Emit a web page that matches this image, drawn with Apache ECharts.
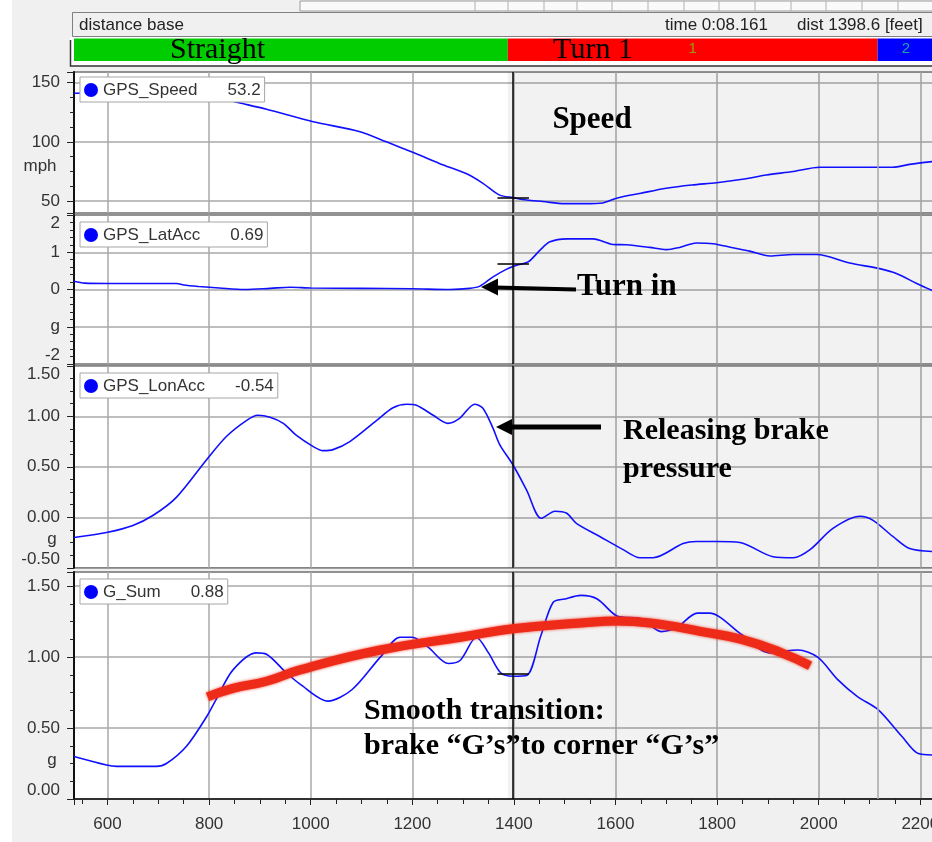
<!DOCTYPE html>
<html><head><meta charset="utf-8">
<script src="https://cdn.jsdelivr.net/npm/echarts@6/dist/echarts.min.js"></script>
<style>
html,body{margin:0;padding:0;background:#fff}
#c{width:932px;height:842px;background:linear-gradient(to right,#fff 0,#fff 12px,#f0f0f0 12px)}
</style>
</head><body><div id="c"></div>
<script>
// ---------- data ----------
const speedDist = [534, 600, 700, 780, 820, 859, 913, 1005, 1097, 1149, 1202, 1261, 1307, 1339, 1372, 1398, 1425, 1457, 1500, 1540, 1575, 1602, 1650, 1700, 1750, 1799, 1850, 1897, 1950, 2002, 2060, 2114, 2146, 2179, 2227];
const speedVals = [141, 141.5, 141.5, 140, 137, 133, 127.5, 117, 108.6, 100, 91, 80.5, 73, 65, 55, 52.9, 50.9, 49.6, 47.8, 47.8, 48.4, 52.4, 56.6, 60.8, 63.6, 65.5, 68.4, 72, 74.9, 78.5, 78.5, 78.5, 78.5, 81, 83.5];

const latDist = [534, 555, 600, 650, 700, 736, 750, 780, 820, 870, 920, 960, 1000, 1100, 1200, 1274, 1313, 1333, 1359, 1385, 1405, 1428, 1451, 1471, 1504, 1556, 1595, 1621, 1667, 1700, 1726, 1759, 1792, 1831, 1864, 1904, 1950, 1996, 2061, 2120, 2153, 2193, 2227];
const latVals = [0.22, 0.17, 0.16, 0.16, 0.16, 0.16, 0.12, 0.08, 0.04, 0.0, 0.03, 0.06, 0.04, 0.03, 0.02, 0.0, 0.03, 0.09, 0.34, 0.54, 0.65, 0.74, 1.05, 1.28, 1.36, 1.36, 1.21, 1.2, 1.13, 1.07, 1.13, 1.25, 1.23, 1.12, 1.03, 0.9, 0.94, 0.94, 0.71, 0.56, 0.43, 0.16, -0.05];

const lonDist = [534, 598, 650, 690, 736, 795, 834, 874, 896, 920, 946, 972, 1005, 1024, 1044, 1077, 1130, 1162, 1189, 1208, 1241, 1270, 1293, 1323, 1339, 1359, 1372, 1398, 1425, 1454, 1481, 1504, 1523, 1569, 1615, 1648, 1674, 1733, 1759, 1800, 1845, 1910, 1950, 1983, 2028, 2081, 2107, 2146, 2179, 2227];
const lonVals = [-0.2, -0.15, -0.08, 0.02, 0.2, 0.57, 0.8, 0.96, 1.01, 0.99, 0.93, 0.81, 0.70, 0.66, 0.67, 0.75, 0.96, 1.085, 1.12, 1.11, 1.01, 0.93, 0.98, 1.12, 1.08, 0.88, 0.72, 0.52, 0.27, -0.01, 0.06, 0.04, -0.06, -0.19, -0.32, -0.40, -0.40, -0.26, -0.24, -0.24, -0.25, -0.39, -0.40, -0.32, -0.11, 0.01, -0.03, -0.19, -0.31, -0.34];

const gDist = [534, 598, 618, 696, 716, 755, 795, 815, 847, 893, 913, 952, 979, 1034, 1081, 1137, 1176, 1200, 1231, 1271, 1295, 1326, 1350, 1374, 1398, 1425, 1453, 1477, 1500, 1532, 1564, 1603, 1650, 1690, 1721, 1761, 1785, 1848, 1903, 1959, 1998, 2038, 2077, 2117, 2164, 2196, 2227];
const gVals = [0.30, 0.24, 0.23, 0.23, 0.25, 0.37, 0.58, 0.71, 0.91, 1.03, 1.02, 0.89, 0.81, 0.69, 0.77, 1.0, 1.14, 1.14, 1.07, 0.955, 0.98, 1.14, 1.03, 0.89, 0.865, 0.87, 1.15, 1.385, 1.41, 1.435, 1.41, 1.29, 1.27, 1.18, 1.21, 1.31, 1.31, 1.16, 1.03, 1.05, 1.0, 0.84, 0.72, 0.63, 0.44, 0.32, 0.31];

const trendDist = [797, 847, 913, 979, 1137, 1295, 1398, 1532, 1603, 1690, 1769, 1848, 1927, 1983];
const trendVals = [0.72, 0.78, 0.83, 0.91, 1.05, 1.14, 1.20, 1.24, 1.255, 1.23, 1.18, 1.125, 1.03, 0.94];

const seriesNames = ['GPS_Speed', 'GPS_LatAcc', 'GPS_LonAcc', 'G_Sum'];
const cursorVals = ['53.2', '0.69', '-0.54', '0.88'];
const cursorDist = 1398.6;

const sectionStart = [534, 1388, 2116];
const sectionEnd = [1388, 2116, 2227];
const sectionLabels = ['', '1', '2'];

const xTickLabels = [600, 800, 1000, 1200, 1400, 1600, 1800, 2000, 2200];

// ---------- styles ----------
const X_MIN = 534, X_MAX = 2227;
const sectionColors = ['#00cc00', '#ff0000', '#0000ff'];
const sectionLabelColors = ['#000', '#9aa000', '#1aa6a6'];
const GRID_COL = '#a9a9a9';
const LABEL_COL = '#333';
const SANS = '"Liberation Sans", Arial, sans-serif';
const SERIF = '"Liberation Serif", "Times New Roman", serif';

const pairs = (d, v) => d.map((x, i) => [x, v[i]]);

const chart = echarts.init(document.getElementById('c'));

const gridDefs = [
  { top: 72, height: 140.9 },
  { top: 215, height: 149 },
  { top: 365.8, height: 202 },
  { top: 572, height: 227 },
  { top: 38.5, height: 22.5 }
];
const grid = gridDefs.map((g, i) => ({
  left: 74, width: 860, top: g.top, height: g.height,
  containLabel: false, outerBoundsMode: 'none',
  show: i < 4, backgroundColor: '#fff', borderColor: '#1a1a1a', borderWidth: 1.5
}));

const xAxis = gridDefs.map((g, i) => ({
  type: 'value', gridIndex: i, min: X_MIN, max: X_MAX,
  splitNumber: 8, minInterval: 200, maxInterval: 200,
  show: i < 4,
  axisLine: { show: i === 3, lineStyle: { color: '#111', width: 1.5 } },
  axisTick: { show: i === 3, length: 6, lineStyle: { color: '#222', width: 1 } },
  minorTick: { show: i === 3, splitNumber: 4, length: 5, lineStyle: { color: '#222', width: 1 } },
  axisLabel: {
    show: i === 3, fontSize: 17, fontFamily: SANS, color: LABEL_COL, margin: 17,
    formatter: v => xTickLabels.indexOf(Math.round(v)) >= 0 && Math.abs(v - Math.round(v)) < 1e-6 ? String(Math.round(v)) : ''
  },
  splitLine: { show: i < 4, lineStyle: { color: GRID_COL, width: 1.5 } }
}));

const yCommon = {
  type: 'value',
  axisLine: { show: true, lineStyle: { color: '#111', width: 2 } },
  axisTick: { show: true, length: 7, lineStyle: { color: '#222', width: 1 } },
  minorTick: { show: true, splitNumber: 4, length: 4, lineStyle: { color: '#222', width: 1 } },
  splitLine: { show: true, lineStyle: { color: GRID_COL, width: 1.5 } }
};
const lab = extra => Object.assign({ fontSize: 17, fontFamily: SANS, color: LABEL_COL, margin: 14 }, extra);
const yAxis = [
  Object.assign({}, yCommon, { gridIndex: 0, min: 40, max: 159, splitNumber: 3, minInterval: 50, maxInterval: 50,
    axisLabel: lab({ formatter: v => (Math.abs(v % 50) < 1e-9 ? String(v) : '') }) }),
  Object.assign({}, yCommon, { gridIndex: 1, min: -2, max: 2, interval: 1,
    minorTick: Object.assign({}, yCommon.minorTick, { splitNumber: 5 }),
    axisLabel: lab({ verticalAlignMaxLabel: 'top', verticalAlignMinLabel: 'bottom',
      formatter: v => (v === -1 ? 'g' : String(v)) }) }),
  Object.assign({}, yCommon, { gridIndex: 2, min: -0.5, max: 1.5, interval: 0.5,
    axisLabel: lab({ verticalAlignMaxLabel: 'top', verticalAlignMinLabel: 'bottom',
      formatter: v => v.toFixed(2) }) }),
  Object.assign({}, yCommon, { gridIndex: 3, min: 0, max: 1.6, interval: 0.5,
    axisLabel: lab({ verticalAlignMinLabel: 'bottom',
      formatter: v => (Math.abs(v * 2 - Math.round(v * 2)) < 1e-9 ? v.toFixed(2) : '') }) }),
  { type: 'value', gridIndex: 4, min: 0, max: 1, show: false }
];

function dataSeries(i, dist, vals) {
  const ml = [
    { xAxis: cursorDist, lineStyle: { color: '#000', width: 1.5, type: 'solid' } },
    { xAxis: sectionStart[2], lineStyle: { color: GRID_COL, width: 1.5, type: 'solid' } }
  ];
  const cv = parseFloat(cursorVals[i]);
  const ymin = yAxis[i].min, ymax = yAxis[i].max;
  if (cv >= ymin && cv <= ymax) {
    ml.push([{ coord: [cursorDist - 31, cv], lineStyle: { color: '#000', width: 1.5, type: 'solid' } }, { coord: [cursorDist + 31, cv] }]);
  }
  return {
    name: seriesNames[i], type: 'line', xAxisIndex: i, yAxisIndex: i,
    data: pairs(dist, vals), smooth: 0.3, showSymbol: false, symbol: 'none',
    color: '#0000ff', lineStyle: { color: '#1010ff', width: 1.6 },
    animation: false, z: 3,
    markArea: { silent: true, itemStyle: { color: 'rgba(0,0,0,0.05)' },
      data: [[{ xAxis: sectionStart[1] }, { xAxis: X_MAX }]] },
    markLine: { silent: true, symbol: 'none', label: { show: false }, animation: false, data: ml }
  };
}

const series = [
  dataSeries(0, speedDist, speedVals),
  dataSeries(1, latDist, latVals),
  dataSeries(2, lonDist, lonVals),
  dataSeries(3, gDist, gVals),
  {
    name: 'trend', type: 'line', xAxisIndex: 3, yAxisIndex: 3,
    data: pairs(trendDist, trendVals), smooth: 0.5, showSymbol: false, symbol: 'none',
    lineStyle: { color: '#ee2a18', width: 9, shadowBlur: 3, shadowColor: 'rgba(240,40,20,0.9)' },
    z: 5, animation: false
  },
  {
    name: 'sections', type: 'custom', xAxisIndex: 4, yAxisIndex: 4,
    data: sectionStart.map((s, i) => [s, sectionEnd[i], i]),
    encode: { x: [0, 1] }, animation: false, silent: true,
    renderItem: (params, api) => {
      const idx = api.value(2);
      const s = api.coord([api.value(0), 0]);
      const e = api.coord([api.value(1), 0]);
      const cs = params.coordSys;
      return {
        type: 'group', children: [
          { type: 'rect', shape: { x: s[0], y: cs.y, width: e[0] - s[0], height: cs.height },
            style: { fill: sectionColors[idx] } },
          { type: 'text', style: { text: sectionLabels[idx], x: (s[0] + e[0]) / 2, y: cs.y + cs.height / 2 - 1,
            align: 'center', verticalAlign: 'middle', fill: sectionLabelColors[idx], font: '15px ' + SANS } }
        ]
      };
    }
  }
];

const legendTops = [77, 222, 373, 579];
const legend = seriesNames.map((n, i) => ({
  data: [{ name: n, icon: 'circle' }], left: 80, top: legendTops[i],
  itemWidth: 14, itemHeight: 14, itemGap: 0, selectedMode: false,
  backgroundColor: '#fff', borderColor: '#a6a6a6', borderWidth: 1, padding: [4, 4, 3, 4],
  textStyle: { fontFamily: SANS, fontSize: 17, color: LABEL_COL, lineHeight: 18,
    rich: { v: { fontFamily: SANS, fontSize: 17, color: LABEL_COL, padding: [0, 0, 0, 30], lineHeight: 18 } } },
  formatter: name => name + '{v|' + cursorVals[i] + '}'
}));

const toolbarSeps = [475, 508, 544, 577, 612, 648, 684, 719, 755, 791, 826, 862, 898];
const graphic = [
  // toolbar strip
  { type: 'rect', shape: { x: 300, y: 1, width: 640, height: 10 }, style: { fill: '#fafafa', stroke: '#9a9a9a', lineWidth: 1 } },
  ...toolbarSeps.map(x => ({ type: 'line', shape: { x1: x, y1: 1, x2: x, y2: 11 }, style: { stroke: '#b0b0b0', lineWidth: 1 } })),
  // distance base box
  { type: 'rect', shape: { x: 72.5, y: 12.5, width: 870, height: 24 }, style: { fill: '#f0f0f0', stroke: '#808080', lineWidth: 1 } },
  { type: 'text', x: 79, y: 25, style: { text: 'distance base', font: '17px ' + SANS, fill: '#222', verticalAlign: 'middle' } },
  { type: 'text', x: 665, y: 25, style: { text: 'time 0:08.161', font: '17px ' + SANS, fill: '#222', verticalAlign: 'middle' } },
  { type: 'text', x: 797, y: 25, style: { text: 'dist 1398.6 [feet]', font: '17px ' + SANS, fill: '#222', verticalAlign: 'middle' } },
  // header bar frame
  { type: 'rect', shape: { x: 70, y: 37, width: 870, height: 29 }, style: { fill: '#fff' } },
  { type: 'polyline', shape: { points: [[70.5, 40], [70.5, 66], [940, 66]] }, style: { stroke: '#333', lineWidth: 1.5, fill: null } },
  // header bar captions
  { type: 'text', x: 217.5, y: 50.5, z: 100, style: { text: 'Straight', font: '30px ' + SERIF, fill: '#000', align: 'center', verticalAlign: 'middle' } },
  { type: 'text', x: 593, y: 50.5, z: 100, style: { text: 'Turn 1', font: '30px ' + SERIF, fill: '#000', align: 'center', verticalAlign: 'middle' } },
  // unit labels
  { type: 'text', x: 40, y: 166, style: { text: 'mph', font: '17px ' + SANS, fill: LABEL_COL, align: 'center', verticalAlign: 'middle' } },
  { type: 'text', x: 52, y: 539, style: { text: 'g', font: '17px ' + SANS, fill: LABEL_COL, align: 'center', verticalAlign: 'middle' } },
  { type: 'text', x: 52, y: 760, style: { text: 'g', font: '17px ' + SANS, fill: LABEL_COL, align: 'center', verticalAlign: 'middle' } },
  // annotations
  { type: 'text', x: 592, y: 120, z: 100, style: { text: 'Speed', font: 'bold 31px ' + SERIF, fill: '#000', align: 'center', verticalAlign: 'middle' } },
  { type: 'text', x: 577, y: 287, z: 100, style: { text: 'Turn in', font: 'bold 31px ' + SERIF, fill: '#000', verticalAlign: 'middle' } },
  { type: 'line', z: 100, shape: { x1: 576, y1: 289.5, x2: 495, y2: 287.5 }, style: { stroke: '#000', lineWidth: 4 } },
  { type: 'polygon', z: 100, shape: { points: [[481, 287], [498, 278.5], [498, 295.5]] }, style: { fill: '#000' } },
  { type: 'text', x: 623, y: 431, z: 100, style: { text: 'Releasing brake', font: 'bold 30px ' + SERIF, fill: '#000', verticalAlign: 'middle' } },
  { type: 'text', x: 623, y: 469, z: 100, style: { text: 'pressure', font: 'bold 30px ' + SERIF, fill: '#000', verticalAlign: 'middle' } },
  { type: 'line', z: 100, shape: { x1: 601, y1: 427, x2: 509, y2: 427 }, style: { stroke: '#000', lineWidth: 5 } },
  { type: 'polygon', z: 100, shape: { points: [[496, 427], [512, 419], [512, 435]] }, style: { fill: '#000' } },
  { type: 'text', x: 364, y: 711, z: 100, style: { text: 'Smooth transition:', font: 'bold 30px ' + SERIF, fill: '#000', verticalAlign: 'middle' } },
  { type: 'text', x: 364, y: 746, z: 100, style: { text: 'brake \u201cG\u2019s\u201dto corner \u201cG\u2019s\u201d', font: 'bold 30px ' + SERIF, fill: '#000', verticalAlign: 'middle' } }
];

chart.setOption({
  animation: false,
  grid, xAxis, yAxis, series, legend, graphic,
  tooltip: { show: false }
});
</script>
</body></html>
